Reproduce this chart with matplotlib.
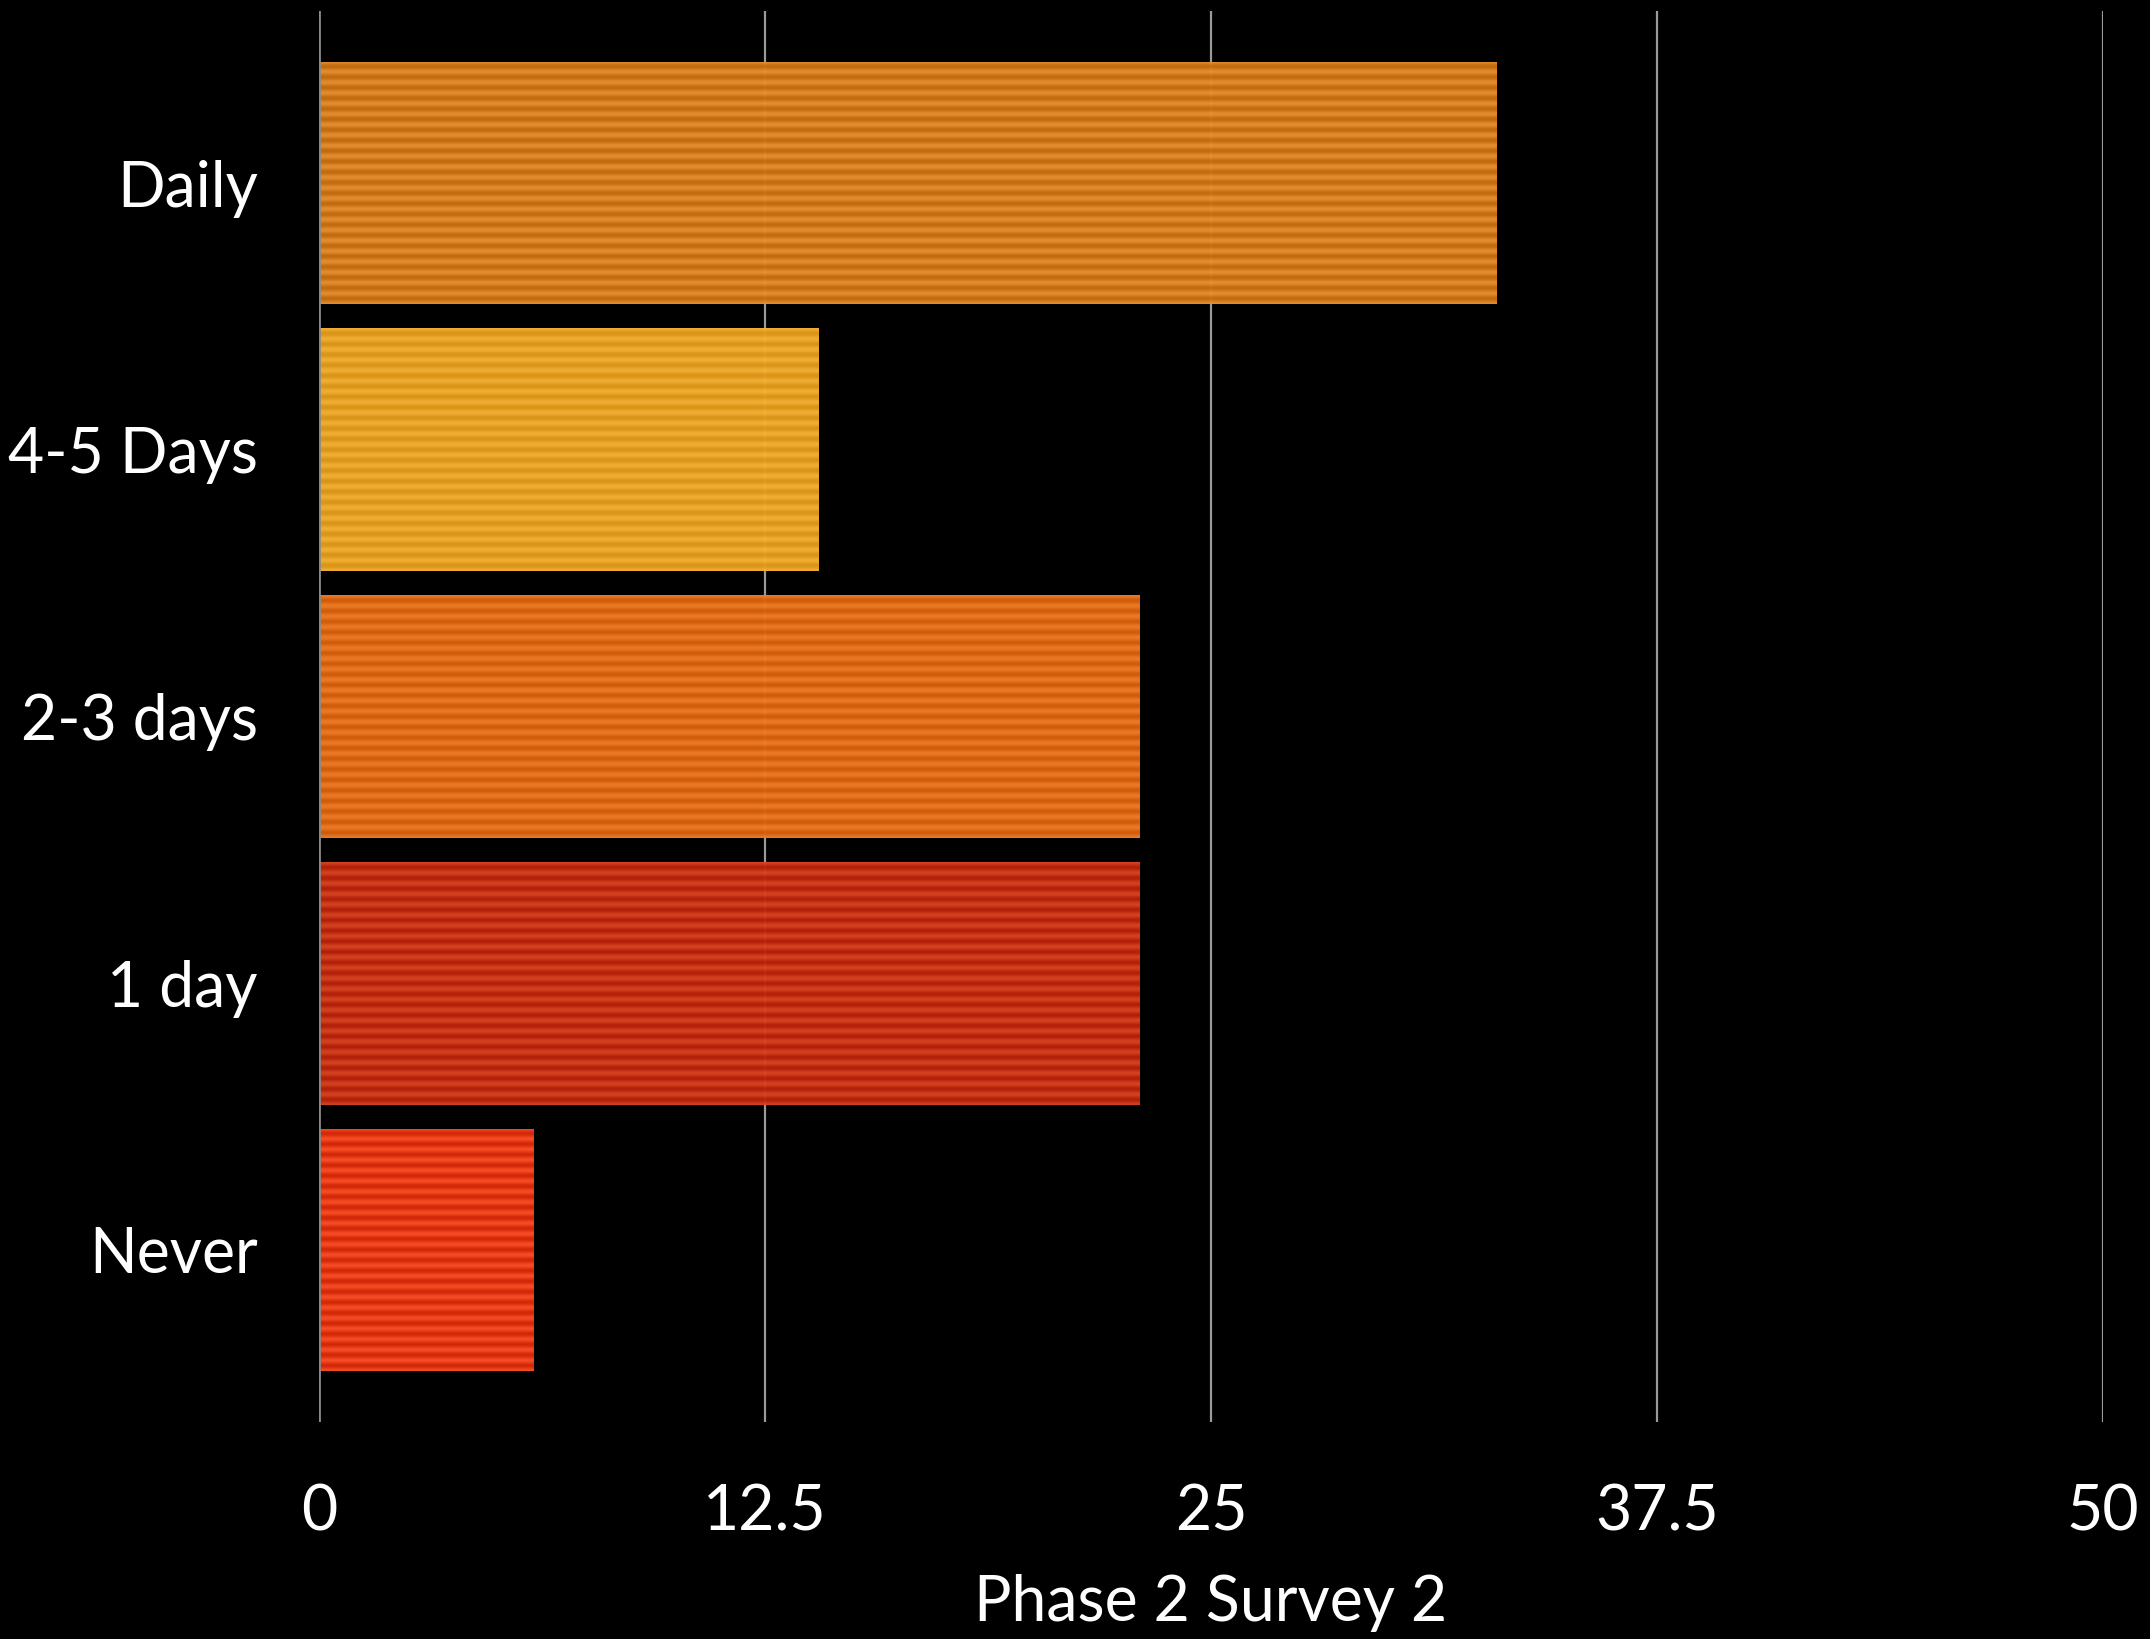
import numpy as np
import matplotlib
matplotlib.use("Agg")
import matplotlib.pyplot as plt
from matplotlib.colors import to_rgb

categories = ["Daily", "4-5 Days", "2-3 days", "1 day", "Never"]
values = [33, 14, 23, 23, 6]
light_colors = ["#EA9232", "#F8B436", "#F47E26", "#DC4422", "#FF4E26"]
dark_colors = ["#CA6E0E", "#E29A18", "#D8600C", "#BA220A", "#DA2A08"]
xticks = [0, 12.5, 25, 37.5, 50]
xtick_labels = ["0", "12.5", "25", "37.5", "50"]
xlabel = "Phase 2 Survey 2"

plt.rcParams['font.family'] = ['Lato', 'DejaVu Sans']

fig = plt.figure(figsize=(10.75, 8.195), dpi=200, facecolor="black")
ax = fig.add_axes([0.1484, 0.1324, 0.9781 - 0.1484, 0.9933 - 0.1324])
ax.set_facecolor("black")

ypos = np.arange(len(categories))
bars = ax.barh(ypos, values, height=0.91, color=light_colors, zorder=2,
               linewidth=0, alpha=0.0)

n_stripes = 23
for rect, lc, dc in zip(bars, light_colors, dark_colors):
    x0, y0 = rect.get_x(), rect.get_y()
    w, h = rect.get_width(), rect.get_height()
    t = np.linspace(0, n_stripes * 2 * np.pi, 600)
    s = (0.5 + 0.5 * np.cos(t))[:, None, None]
    c1 = np.array(to_rgb(lc))[None, None, :]
    c2 = np.array(to_rgb(dc))[None, None, :]
    img = c2 + (c1 - c2) * s
    im = ax.imshow(img, extent=[x0, x0 + w, y0 + h, y0], aspect='auto',
                   interpolation='bilinear', zorder=2.5, alpha=0.97)
    im.set_clip_path(rect)

ax.set_xlim(0, 50)
ax.set_ylim(len(categories) - 1 + 0.645, -0.645)
ax.set_xticks(xticks)
ax.set_xticklabels(xtick_labels)
ax.set_yticks(ypos)
ax.set_yticklabels(categories)

for x in xticks:
    ax.axvline(x, color="#9a9a9a", linewidth=0.8, zorder=1)
ax.axvline(0, color="#8a8a8a", linewidth=1.0, zorder=3)

for sp in ax.spines.values():
    sp.set_visible(False)

ax.tick_params(axis='both', length=0, colors="white", labelsize=22.5)
ax.tick_params(axis='x', pad=22)
ax.tick_params(axis='y', pad=22)
for lab in ax.get_xticklabels() + ax.get_yticklabels():
    lab.set_fontweight('normal')
    lab.set_color("white")

ax.set_xlabel(xlabel, color="white", fontsize=22.5, fontweight='normal', labelpad=12)

fig.savefig("out.png", dpi=200, facecolor="black")
